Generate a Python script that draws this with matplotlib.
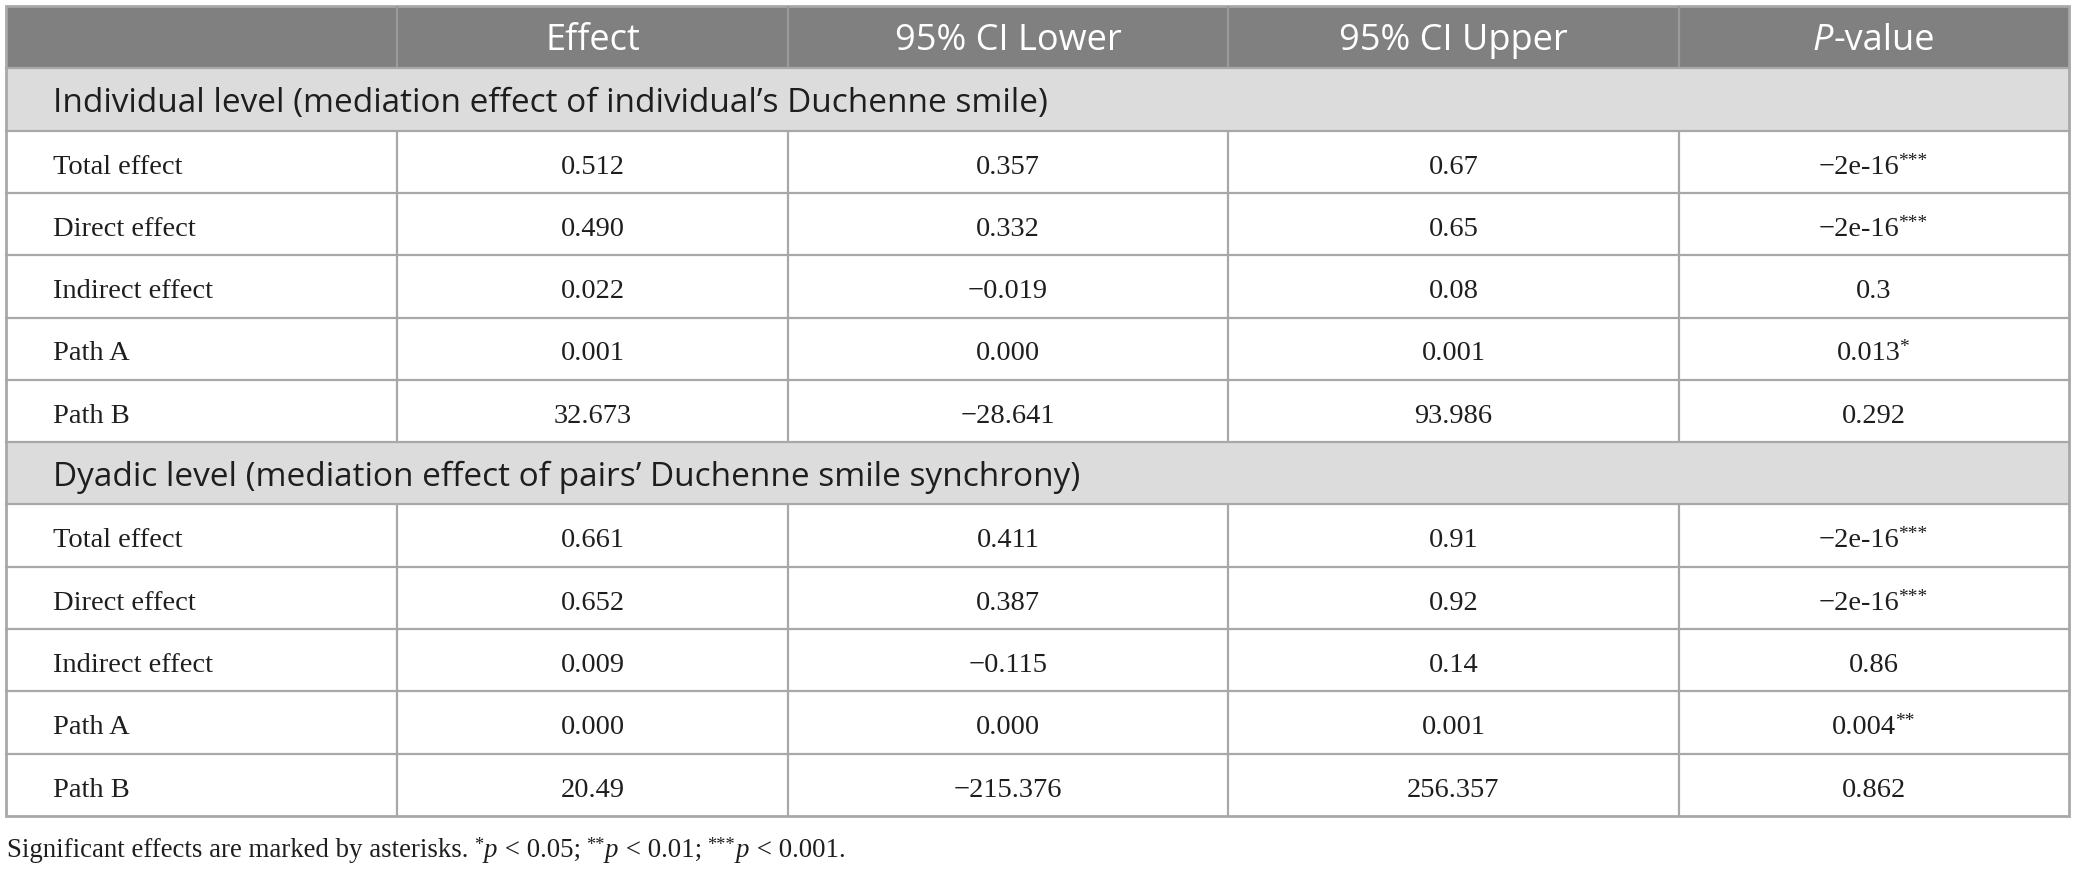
import matplotlib
matplotlib.use("Agg")
import matplotlib.pyplot as plt
from matplotlib.patches import Rectangle

# table content
columns = ["", "Effect", "95% CI Lower", "95% CI Upper", "P-value"]
sections = [
    "Individual level (mediation effect of individual\u2019s Duchenne smile)",
    "Dyadic level (mediation effect of pairs\u2019 Duchenne smile synchrony)",
]
row_labels = ["Total effect", "Direct effect", "Indirect effect", "Path A", "Path B"]

indiv_effect = ["0.512", "0.490", "0.022", "0.001", "32.673"]
indiv_lower = ["0.357", "0.332", "\u22120.019", "0.000", "\u221228.641"]
indiv_upper = ["0.67", "0.65", "0.08", "0.001", "93.986"]
indiv_p = ["\u22122e-16***", "\u22122e-16***", "0.3", "0.013*", "0.292"]

dyad_effect = ["0.661", "0.652", "0.009", "0.000", "20.49"]
dyad_lower = ["0.411", "0.387", "\u22120.115", "0.000", "\u2212215.376"]
dyad_upper = ["0.91", "0.92", "0.14", "0.001", "256.357"]
dyad_p = ["\u22122e-16***", "\u22122e-16***", "0.86", "0.004**", "0.862"]

# footnote pieces: (text, kind)
footnote = [
    ("Significant effects are marked by asterisks.", "rm"),
    ("*", "sup"), ("p", "it"), (" < 0.05;", "rm"),
    ("**", "sup"), ("p", "it"), (" < 0.01;", "rm"),
    ("***", "sup"), ("p", "it"), (" < 0.001.", "rm"),
]

blocks = [
    (sections[0], [indiv_effect, indiv_lower, indiv_upper, indiv_p]),
    (sections[1], [dyad_effect, dyad_lower, dyad_upper, dyad_p]),
]

# layout (pixels)
W, H = 2076, 869
col_edges = [6, 397, 788, 1228, 1679, 2069]
top = 6
row_h = 62.3
line_c = "#a8a8a8"
head_bg = "#808080"
sect_bg = "#dcdcdc"
ink = "#1e1e1e"
sans = "Open Sans"
serif = "Liberation Serif"
fs_head = 26
fs_sect = 24
fs_cell = 20.5
fs_foot = 19.4

fig = plt.figure(figsize=(W / 100, H / 100), dpi=100)
ax = fig.add_axes([0, 0, 1, 1])
ax.set_xlim(0, W)
ax.set_ylim(H, 0)
ax.axis("off")


def cell_with_stars(cx, base, s, fs):
    stars = len(s) - len(s.rstrip("*"))
    main = s.rstrip("*")
    sfs = fs * 0.68
    shift = stars * 0.5 * sfs * 100 / 72 / 2
    t = ax.text(cx - shift, base, main, ha="center", va="baseline",
                color=ink, fontsize=fs, family=serif)
    if stars:
        ax.annotate("*" * stars, xy=(1, 1), xycoords=t, ha="left", va="top",
                    xytext=(-1.2, 1.5), textcoords="offset points",
                    color=ink, fontsize=sfs, family=serif)


def chain_text(x, base, parts, fs):
    prev = None
    anchor = None
    for txt, kind in parts:
        kw = dict(color=ink, family=serif)
        if prev is None:
            prev = ax.text(x, base, txt, ha="left", va="baseline", fontsize=fs, **kw)
            anchor = prev
            continue
        if kind == "sup":
            t = ax.annotate(txt, xy=(1, 1), xycoords=(prev, anchor), ha="left",
                            va="top", xytext=(4, 1), textcoords="offset points",
                            fontsize=fs * 0.68, **kw)
        else:
            t = ax.annotate(txt, xy=(1, 0), xycoords=(prev, anchor), ha="left",
                            va="bottom", xytext=(0.3, 0), textcoords="offset points",
                            fontsize=fs, style="italic" if kind == "it" else "normal",
                            **kw)
            anchor = t
        prev = t


n_rows = 1 + sum(1 + len(r[0]) for _, r in blocks)
bottom = top + n_rows * row_h

# header
ax.add_patch(Rectangle((col_edges[0], top), col_edges[-1] - col_edges[0], row_h,
                       facecolor=head_bg, edgecolor="none"))
for j in range(1, len(columns)):
    cx = (col_edges[j] + col_edges[j + 1]) / 2
    if columns[j] == "P-value":
        t2 = ax.text(cx + 10, top + 44, "-value", ha="center", va="baseline",
                     color="white", fontsize=fs_head, family=sans)
        ax.annotate("P", xy=(0, 0), xycoords=t2, ha="right", va="bottom",
                    color="white", fontsize=fs_head, family=sans, style="italic")
    else:
        ax.text(cx, top + 44, columns[j], ha="center", va="baseline",
                color="white", fontsize=fs_head, family=sans)

y = top + row_h
hlines = [top + row_h]
for title, cols in blocks:
    ax.add_patch(Rectangle((col_edges[0], y), col_edges[-1] - col_edges[0], row_h,
                           facecolor=sect_bg, edgecolor="none"))
    ax.text(53, y + 44, title, ha="left", va="baseline", color=ink,
            fontsize=fs_sect, family=sans)
    y += row_h
    hlines.append(y)
    y0 = y
    for i, lab in enumerate(row_labels):
        base = y + 43
        ax.text(53, base, lab, ha="left", va="baseline", color=ink,
                fontsize=fs_cell, family=serif)
        for j, vals in enumerate(cols):
            cx = (col_edges[j + 1] + col_edges[j + 2]) / 2
            cell_with_stars(cx, base, vals[i], fs_cell)
        y += row_h
        hlines.append(y)
    for x in col_edges[1:-1]:
        ax.plot([x, x], [y0, y], color=line_c, lw=1.6, solid_capstyle="butt")

# header separators
for x in col_edges[1:-1]:
    ax.plot([x, x], [top, top + row_h], color="#9a9a9a", lw=1.6,
            solid_capstyle="butt")

for yy in hlines[:-1]:
    ax.plot([col_edges[0], col_edges[-1]], [yy, yy], color=line_c, lw=1.6)

ax.add_patch(Rectangle((col_edges[0], top), col_edges[-1] - col_edges[0],
                       bottom - top, facecolor="none", edgecolor=line_c, lw=2.0))

chain_text(7, 857, footnote, fs_foot)

fig.savefig("out.png", dpi=100, facecolor="white")
